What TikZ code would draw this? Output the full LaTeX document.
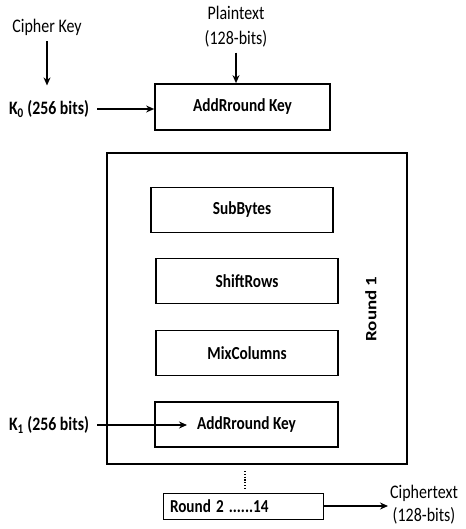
\documentclass[tikz,border=0pt]{standalone}
\usepackage{fontspec}
\usepackage{graphicx}
\setmainfont{Carlito}
\usetikzlibrary{arrows.meta}
\newcommand\stv[1]{\scalebox{1}[1.2]{#1}}
\newcommand\sth[1]{\scalebox{1.2}[1]{#1}}
\begin{document}
\begin{tikzpicture}[x=1pt,y=-1pt,
  box/.style={draw,line width=1.7pt,font=\bfseries\fontsize{15.3}{17}\selectfont},
  lbl/.style={font=\fontsize{16}{24}\selectfont,inner sep=0pt},
  blbl/.style={font=\bfseries\fontsize{15.8}{18}\selectfont,inner sep=0pt},
  arr/.style={-{Stealth[length=8pt,width=7pt]},line width=1.3pt}]
\useasboundingbox (0,0) rectangle (465,529);
% outer round box
\draw[line width=1.7pt] (107,153) rectangle (407,464);
% labels
\node[lbl] (ck) at (47,27) {\stv{Cipher Key}};
\node[blbl] (k0) at (49,109) {\stv{K\textsubscript{0} (256 bits)}};
\node[lbl,align=center] (pt) at (236,27) {\stv{Plaintext}\\[1pt]\stv{(128-bits)}};
% top AddRoundKey
\node[box,minimum width=175pt,minimum height=46pt] (ark0) at (242.5,107) {\stv{AddRround Key}};
\draw[arr] (ck.south) ++(0,6) -- ++(0,44);
\draw[arr] (k0.east) ++(8,0) -- (k0.east -| ark0.west);
\draw[arr] (pt.south) ++(0,5) -- (ark0.north -| pt.south);
% inner boxes
\node[box,minimum width=182pt,minimum height=45pt] (sb) at (242,210) {\stv{SubBytes}};
\node[box,minimum width=182pt,minimum height=45pt] (sr) at (247,281) {\stv{ShiftRows}};
\node[box,minimum width=182pt,minimum height=45pt] (mc) at (247,353) {\stv{MixColumns}};
\node[box,minimum width=183pt,minimum height=45pt] (ark1) at (246.5,424.5) {\stv{AddRround Key}};
\node[blbl,rotate=90] (r1) at (371,309) {\sth{Round 1}};
\node[blbl] (k1) at (49,425) {\stv{K\textsubscript{1} (256 bits)}};
\coordinate (ark1in) at (187,425);
\draw[arr] (k1.east) ++(8,0) -- (ark1in);
% dotted continuation
\coordinate (dt) at (245,471);
\coordinate (db) at (245,489);
\draw[line width=1.3pt,dash pattern=on 1.2pt off 1.6pt] (dt) -- (db);
% round 2 box
\node[draw,line width=1pt,minimum width=160pt,minimum height=26pt,inner xsep=7pt,font=\bfseries\fontsize{15.2}{17}\selectfont,text width=146pt,align=left] (r2) at (243,506) {\stv{Round 2 ......14}};
\node[lbl,align=center] (ct) at (424,505) {\stv{Ciphertext}\\[-1pt]\stv{(128-bits)}};
\coordinate (cta) at (388,506);
\draw[arr] (r2.east) -- (cta);
\end{tikzpicture}
\end{document}
